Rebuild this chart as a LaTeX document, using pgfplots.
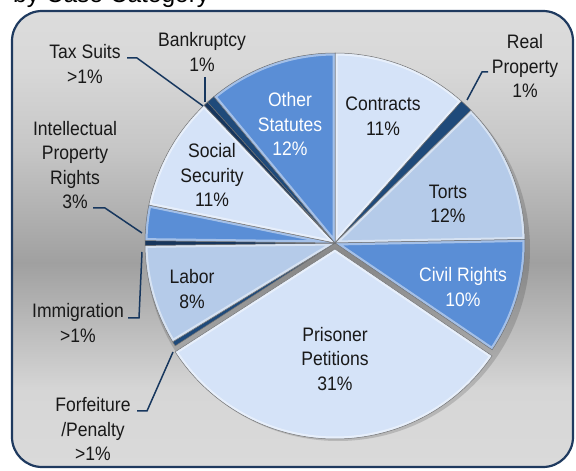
\documentclass[border=0pt]{standalone}
\usepackage{pgfplots}
\pgfplotsset{compat=1.18}
\usepackage{pgfplotstable}
\usepackage{fontspec}
\setmainfont{Liberation Sans}
\newfontfamily\labfont{Liberation Sans}[FakeStretch=0.9]

\definecolor{frameblue}{HTML}{1F3A5F}
\definecolor{leadblue}{HTML}{17375E}
\definecolor{pale}{HTML}{D5E3F8}
\definecolor{light}{HTML}{B5CBE9}
\definecolor{medium}{HTML}{5A8ED6}
\definecolor{dark}{HTML}{1F4A7A}
\definecolor{darker}{HTML}{17365D}
\definecolor{bgA}{HTML}{DADADA}
\definecolor{bgB}{HTML}{D6D6D6}
\definecolor{bgC}{HTML}{A0A0A0}
\definecolor{bgD}{HTML}{C6C6C6}
\definecolor{bgE}{HTML}{D8D8D8}
\definecolor{bgF}{HTML}{DCDCDC}
\pgfdeclareverticalshading{bgshade}{100bp}{color(0bp)=(bgA); color(25bp)=(bgA); color(33.4bp)=(bgB); color(47.4bp)=(bgC); color(59.8bp)=(bgD); color(68.9bp)=(bgE); color(75bp)=(bgF); color(100bp)=(bgF)}

% shares of each category (percent), clockwise from 12 o'clock
\pgfplotstableread{
idx share col explode
0 11.6 pale 0
1 1.1 dark 0
2 12.0 light 0
3 9.8 medium 0
4 31.4 pale 6
5 0.4 dark 0
6 8.5 light 0
7 0.4 darker 0
8 3.0 medium 0
9 9.7 pale 0
10 0.4 darker 0
11 0.7 dark 0
12 11.0 medium 0
}\pietable

\begin{document}
\begin{tikzpicture}
\useasboundingbox (0,0) rectangle (576bp,471bp);
\begin{axis}[hide axis, x=1bp, y=1bp, xmin=0, xmax=576, ymin=0, ymax=471,
  clip=false, anchor=south west, at={(0,0)}, scale only axis]
% frame
\path[draw=frameblue, line width=2.2bp, rounded corners=30bp, shade, shading=bgshade]
  (axis cs:12,4) rectangle (axis cs:573,460);
% title
\node[anchor=base west, inner sep=0pt, font=\fontsize{24.5bp}{27bp}\selectfont] at (axis cs:13,468) {by Case Category};
% shadow
\fill[black, opacity=0.15] (axis cs:338,222) circle[radius=192bp];
% slices
\def\cw{0}
\pgfplotsforeachungrouped \i in {0,...,12}{%
  \pgfplotstablegetelem{\i}{share}\of\pietable \let\val\pgfplotsretval
  \pgfplotstablegetelem{\i}{col}\of\pietable \let\colr\pgfplotsretval
  \pgfplotstablegetelem{\i}{explode}\of\pietable \let\ex\pgfplotsretval
  \pgfmathsetmacro\aS{90-\cw}%
  \pgfmathsetmacro\cwE{\cw+3.6*\val}%
  \pgfmathsetmacro\aE{90-\cwE}%
  \pgfmathsetmacro\aM{(\aS+\aE)/2}%
  \pgfmathsetmacro\go{\val>2 ? 0.45 : 0}%
  \edef\tmp{\noexpand\fill[fill=\colr, draw=black!55, line width=0.5bp, shift={(\aM:\ex bp)},
    path picture={\noexpand\draw[white, opacity=\go, line width=5bp] (axis cs:335,228) -- ++(\aS:190bp) arc[start angle=\aS, end angle=\aE, radius=190bp] -- cycle;}]
    (axis cs:335,228) -- ++(\aS:190bp) arc[start angle=\aS, end angle=\aE, radius=190bp] -- cycle;}%
  \tmp
  \global\let\cw\cwE
}
% leader lines
\draw[leadblue, line width=1.5bp] (axis cs:488,399) -- (axis cs:482,399) -- (axis cs:467,371);
\draw[leadblue, line width=1.5bp] (axis cs:137,60) -- (axis cs:147,60) -- (axis cs:173,119);
\draw[leadblue, line width=1.5bp] (axis cs:128,153) -- (axis cs:139,153) -- (axis cs:142,219);
\draw[leadblue, line width=1.5bp] (axis cs:93,263) -- (axis cs:105,263) -- (axis cs:142,238);
\draw[leadblue, line width=1.5bp] (axis cs:127,413) -- (axis cs:137,413) -- (axis cs:203,365);
\draw[leadblue, line width=1.5bp] (axis cs:205,394) -- (axis cs:205,369);
% labels
\tikzset{lab/.style={inner sep=0pt, align=center, text=black!90, font=\labfont\fontsize{19.5bp}{24.5bp}\selectfont}}
\node[lab] at (axis cs:383,355) {Contracts\\11\%};
\node[lab] at (axis cs:525,405) {Real\\Property\\1\%};
\node[lab] at (axis cs:448,267) {Torts\\12\%};
\node[lab, text=white] at (axis cs:463,184) {Civil Rights\\10\%};
\node[lab] at (axis cs:335,112) {Prisoner\\Petitions\\31\%};
\node[lab] at (axis cs:93,42) {Forfeiture\\/Penalty\\>1\%};
\node[lab] at (axis cs:192,182) {Labor\\8\%};
\node[lab] at (axis cs:78,148) {Immigration\\>1\%};
\node[lab] at (axis cs:75,306) {Intellectual\\Property\\Rights\\3\%};
\node[lab] at (axis cs:212,296) {Social\\Security\\11\%};
\node[lab] at (axis cs:85,407) {Tax Suits\\>1\%};
\node[lab] at (axis cs:202,419) {Bankruptcy\\1\%};
\node[lab, text=white] at (axis cs:290,347) {Other\\Statutes\\12\%};
\end{axis}
\end{tikzpicture}
\end{document}
